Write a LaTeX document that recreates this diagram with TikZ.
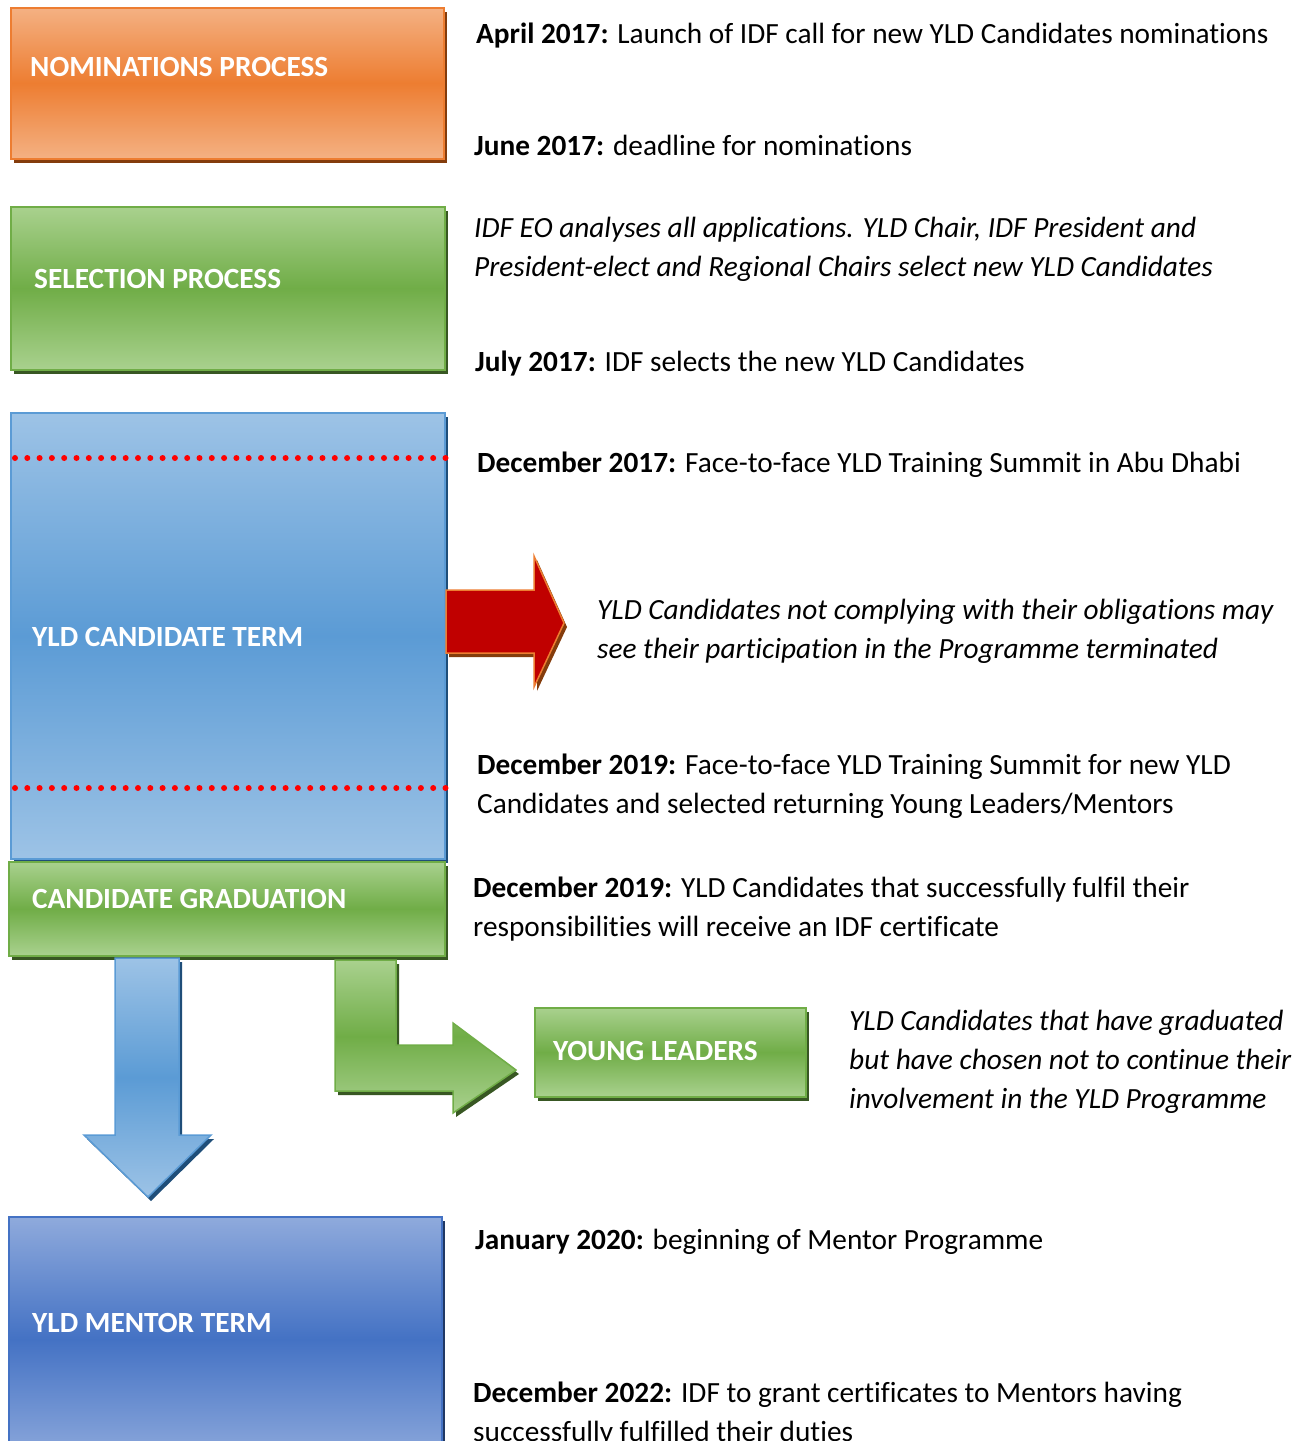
\documentclass[tikz,border=0pt]{standalone}
\usepackage{fontspec}
\setmainfont{Carlito}[Ligatures=NoCommon]
\usetikzlibrary{shadows}

\definecolor{nomlight}{HTML}{F4B183}
\definecolor{nommid}{HTML}{ED7D31}
\definecolor{nomdark}{HTML}{843C0C}
\definecolor{sellight}{HTML}{A9D18E}
\definecolor{selmid}{HTML}{70AD47}
\definecolor{seldark}{HTML}{385723}
\definecolor{candlight}{HTML}{9DC3E6}
\definecolor{candmid}{HTML}{5B9BD5}
\definecolor{canddark}{HTML}{1F4E79}
\definecolor{mentlight}{HTML}{8FAADC}
\definecolor{mentmid}{HTML}{4472C4}
\definecolor{mentdark}{HTML}{203864}
\definecolor{warnred}{HTML}{C00000}

\tikzset{
  stagebox/.style={draw=#1mid, line width=1.5pt, top color=#1light, bottom color=#1light, middle color=#1mid,
    drop shadow={shadow xshift=3pt, shadow yshift=-4pt, fill=#1dark, opacity=1},
    anchor=north west, inner sep=0pt},
  stagearrow/.style={draw=#1mid, line width=1.5pt, top color=#1light, bottom color=#1light, middle color=#1mid,
    drop shadow={shadow xshift=3pt, shadow yshift=-4pt, fill=#1dark, opacity=1}},
  boxlabel/.style={text=white, font=\bfseries\fontsize{29.3}{39}\selectfont, anchor=west, inner sep=0pt},
  note/.style={font=\fontsize{29.3}{39}\selectfont, anchor=west, align=left, inner sep=0pt},
  inote/.style={note, font=\fontsize{29.3}{39}\selectfont\itshape},
  reddots/.style={draw=red, line width=6pt, line cap=round, dash pattern=on 0pt off 12.3pt}
}

\begin{document}
\begin{tikzpicture}[x=1pt,y=-1pt]
  \useasboundingbox (0,0) rectangle (1305,1441);

  % stages
  \node[stagebox=nom, minimum width=433pt, minimum height=151pt] (nom) at (10,7) {};
  \node[stagebox=sel, minimum width=434pt, minimum height=163pt] (sel) at (10,206) {};
  \node[stagebox=cand, minimum width=434pt, minimum height=446pt] (cand) at (10,412) {};
  \node[stagebox=sel, minimum width=436pt, minimum height=94pt] (grad) at (8,861) {};
  \node[stagebox=sel, minimum width=271pt, minimum height=89pt] (young) at (534,1007) {};
  \node[stagebox=ment, minimum width=433pt, minimum height=245pt] (ment) at (8,1216) {};

  \draw[reddots] (15,458) -- (446,458);
  \draw[reddots] (15,788) -- (446,788);

  % arrows
  \draw[line width=1.5pt, draw=nommid, fill=warnred,
    drop shadow={shadow xshift=3pt, shadow yshift=-4pt, fill=nomdark, opacity=1}]
    (446,590) -- (534,590) -- (534,556) -- (564,623) -- (534,687) -- (534,653) -- (446,653) -- cycle;
  \draw[stagearrow=cand]
    (115,958) -- (179,958) -- (179,1135) -- (211,1135) -- (148,1197) -- (84,1135) -- (115,1135) -- cycle;
  \draw[stagearrow=sel]
    (335,960) -- (396,960) -- (396,1045) -- (453,1045) -- (453,1023) -- (516,1070)
    -- (453,1113) -- (453,1091) -- (335,1091) -- cycle;

  % labels
  \node[boxlabel] (nomlabel) at (30,67) {NOMINATIONS PROCESS};
  \node[boxlabel] (sellabel) at (34,279) {SELECTION PROCESS};
  \node[boxlabel] (candlabel) at (32,637) {YLD CANDIDATE TERM};
  \node[boxlabel] (gradlabel) at (32,899) {CANDIDATE GRADUATION};
  \node[boxlabel] (younglabel) at (553,1051) {YOUNG LEADERS};
  \node[boxlabel] (mentlabel) at (32,1323) {YLD MENTOR TERM};

  % notes
  \node[note] (apr) at (476,36) {\textbf{April 2017:} Launch of IDF call for new YLD Candidates nominations};
  \node[note] (jun) at (474,145) {\textbf{June 2017:} deadline for nominations};
  \node[inote] (eo) at (474,249) {IDF EO analyses all applications. YLD Chair, IDF President and\\President-elect and Regional Chairs select new YLD Candidates};
  \node[note] (jul) at (475,364) {\textbf{July 2017:} IDF selects the new YLD Candidates};
  \node[note] (dec17) at (477,465) {\textbf{December 2017:} Face-to-face YLD Training Summit in Abu Dhabi};
  \node[inote] (warn) at (597,631) {YLD Candidates not complying with their obligations may\\see their participation in the Programme terminated};
  \node[note] (dec19) at (477,786) {\textbf{December 2019:} Face-to-face YLD Training Summit for new YLD\\Candidates and selected returning Young Leaders/Mentors};
  \node[note] (dec19g) at (473,909) {\textbf{December 2019:} YLD Candidates that successfully fulfil their\\responsibilities will receive an IDF certificate};
  \node[inote] (yl) at (849,1062) {YLD Candidates that have graduated\\but have chosen not to continue their\\involvement in the YLD Programme};
  \node[note] (jan) at (475,1242) {\textbf{January 2020:} beginning of Mentor Programme};
  \node[note] (dec22) at (473,1414) {\textbf{December 2022:} IDF to grant certificates to Mentors having\\successfully fulfilled their duties};
\end{tikzpicture}
\end{document}
